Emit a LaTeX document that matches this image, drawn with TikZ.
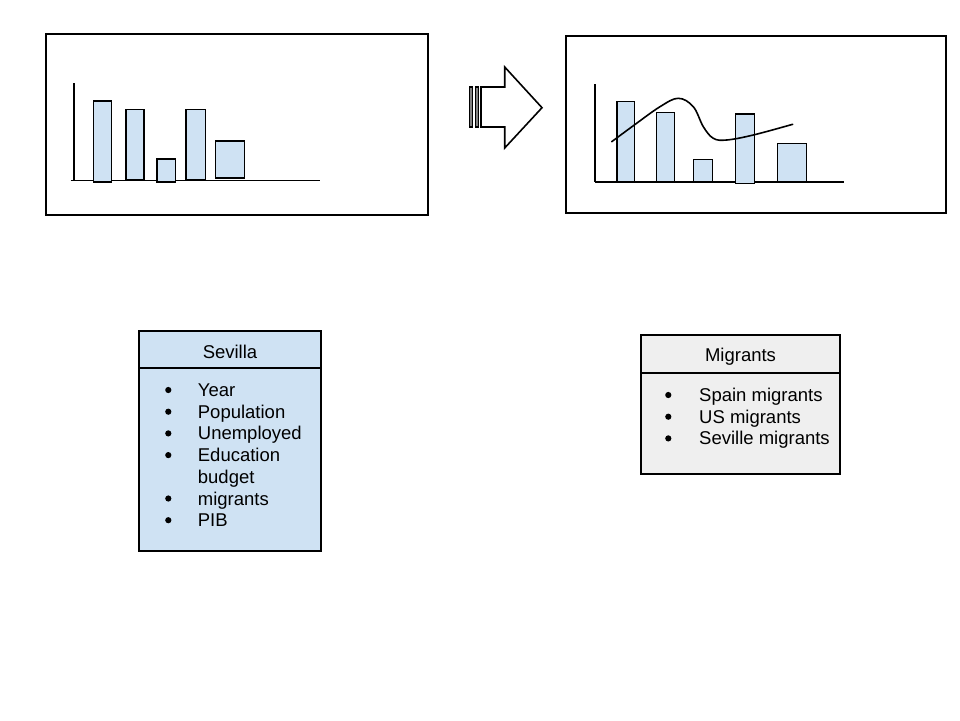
\documentclass[tikz,border=0pt]{standalone}
\usepackage{fontspec}
\setmainfont{Liberation Sans}
\definecolor{barblue}{HTML}{CFE2F3}
\definecolor{boxgrey}{HTML}{EFEFEF}
\begin{document}
\begin{tikzpicture}[x=1pt,y=-1pt,
  frame/.style={draw=black,line width=1.6pt},
  bar/.style={draw=black,line width=1.6pt,fill=barblue},
  axisline/.style={draw=black,line width=1.6pt},
  curveline/.style={draw=black,line width=1.6pt,line cap=round},
  lbl/.style={font=\fontsize{18.5}{21.7}\selectfont,inner sep=0pt,anchor=base west},
  hdr/.style={font=\fontsize{18.5}{21.7}\selectfont,inner sep=0pt,anchor=base},
  bulletdot/.style={circle,fill=black,inner sep=0pt,minimum size=6.2pt},
]
\useasboundingbox (0,0) rectangle (960,720);
\fill[white] (0,0) rectangle (960,720);

% ---- left chart ----
\draw[frame] (46,34) rectangle (428,215);
\draw[axisline] (73.7,83) -- (73.7,180.5);
\draw[axisline] (70.7,180.5) -- (320,180.5);
\draw[bar] (93.3,101) rectangle (111.3,181.7);
\draw[bar] (125.7,109.3) rectangle (143.7,179.3);
\draw[bar] (157,159) rectangle (175.3,181.7);
\draw[bar] (186,109.3) rectangle (205.3,179.3);
\draw[bar] (215.3,141) rectangle (244.3,178);

% ---- striped arrow ----
\draw[frame,line width=1.2pt,fill=gray] (469.8,87) rectangle (472.8,127);
\draw[frame,line width=1.2pt,fill=gray] (475.2,87) rectangle (478.6,127);
\draw[frame,fill=white] (481,87) -- (504.7,87) -- (504.7,67) -- (542,107.7)
  -- (504.7,148) -- (504.7,127) -- (481,127) -- cycle;

% ---- right chart ----
\draw[frame] (565.7,36) rectangle (946,212.7);
\draw[axisline] (595,84) -- (595,181.7);
\draw[axisline] (595,181.7) -- (844,181.7);
\draw[bar] (616.7,101.3) rectangle (634.3,181.7);
\draw[bar] (656.3,112.3) rectangle (674.3,181.7);
\draw[bar] (693.3,159.3) rectangle (712.3,181.7);
\draw[bar] (735.3,114) rectangle (754.3,183.3);
\draw[bar] (777.3,143.3) rectangle (806.3,181.7);
\draw[curveline] plot[smooth,tension=0.6] coordinates {
  (611.7,141.7) (634.3,125) (660,106.7) (678.3,98.3) (693.3,106.7)
  (703.3,126.7) (713.3,138.3) (726.7,140) (753.3,135) (792.7,124.3)};

% ---- Sevilla box ----
\draw[frame,fill=barblue] (139,331) rectangle (321,551);
\draw[frame] (139,367.7) -- (321,367.7);
\node[hdr] (sevh) at (230,358.5) {Sevilla};
\foreach \n/\y/\t in {s1/396.5/Year, s2/418.2/Population, s3/439.9/Unemployed,
                      s4/461.6/Education, s6/505/migrants, s7/526.7/PIB}{
  \node[bulletdot] (\n b) at (168.3,\y-6.5) {};
  \node[lbl] (\n) at (197.7,\y) {\t};
}
\node[lbl] (s5) at (197.7,483.3) {budget};

% ---- Migrants box ----
\draw[frame,fill=boxgrey] (641,335) rectangle (840,474);
\draw[frame] (641,372.7) -- (840,372.7);
\node[hdr] (migh) at (740.5,361.5) {Migrants};
\foreach \n/\y/\t in {m1/401.5/Spain migrants, m2/423.2/US migrants, m3/444.9/Seville migrants}{
  \node[bulletdot] (\n b) at (668.3,\y-6.5) {};
  \node[lbl] (\n) at (699,\y) {\t};
}
\end{tikzpicture}
\end{document}
